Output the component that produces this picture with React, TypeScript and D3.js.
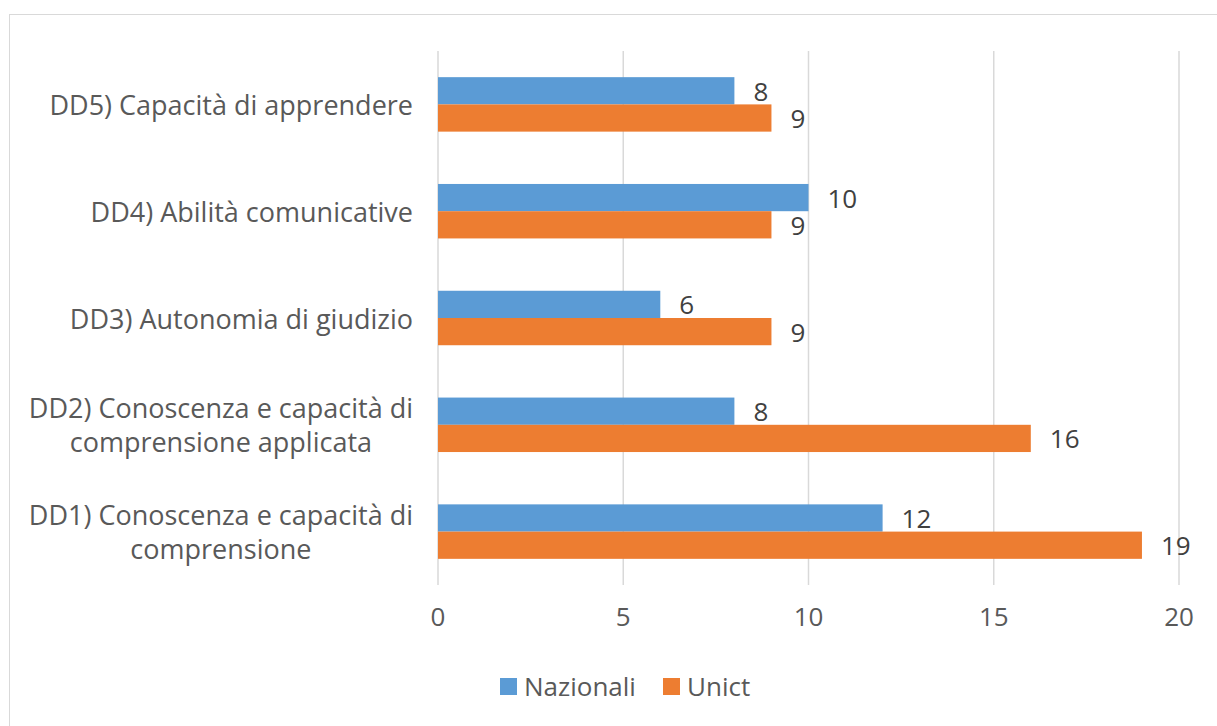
import * as d3 from 'd3';
import React, { useEffect, useRef } from 'react';

const categories = [
  ['DD5) Capacità di apprendere'],
  ['DD4) Abilità comunicative'],
  ['DD3) Autonomia di giudizio'],
  ['DD2) Conoscenza e capacità di', 'comprensione applicata'],
  ['DD1) Conoscenza e capacità di', 'comprensione'],
];
const nazionali = [8, 10, 6, 8, 12];
const unict = [9, 9, 9, 16, 19];
const seriesNames = ['Nazionali', 'Unict'];
const colors = ['#5B9BD5', '#ED7D31'];
const xTicks = [0, 5, 10, 15, 20];

const width = 1217;
const height = 726;
const font = '"Open Sans", sans-serif';
const textColor = '#595959';
const fontSize = 26;

export default function App() {
  const ref = useRef<SVGSVGElement>(null);

  useEffect(() => {
    const svg = d3.select(ref.current);
    svg.selectAll('*').remove();

    // chart border
    svg
      .append('rect')
      .attr('x', 9.5)
      .attr('y', 14.5)
      .attr('width', 1240)
      .attr('height', 740)
      .attr('fill', '#fff')
      .attr('stroke', '#D9D9D9');

    const left = 438;
    const right = 1179;
    const top = 51;
    const bottom = 585;

    const x = d3.scaleLinear().domain([0, 20]).range([left, right]);
    const y = d3
      .scaleBand<number>()
      .domain(d3.range(categories.length))
      .range([top, bottom])
      .paddingInner(0.49)
      .paddingOuter(0.245);
    const sub = d3.scaleBand<number>().domain([0, 1]).range([0, y.bandwidth()]);

    // gridlines
    svg
      .append('g')
      .selectAll('line')
      .data(xTicks)
      .join('line')
      .attr('x1', (d) => x(d))
      .attr('x2', (d) => x(d))
      .attr('y1', top)
      .attr('y2', bottom)
      .attr('stroke', '#D9D9D9')
      .attr('stroke-width', 1.5);

    // tick labels
    svg
      .append('g')
      .selectAll('text')
      .data(xTicks)
      .join('text')
      .attr('x', (d) => x(d))
      .attr('y', 616)
      .attr('text-anchor', 'middle')
      .attr('dominant-baseline', 'central')
      .attr('font-family', font)
      .attr('font-size', fontSize)
      .attr('fill', textColor)
      .text((d) => d);

    const series = [nazionali, unict];
    series.forEach((vals, s) => {
      const g = svg.append('g');
      g.selectAll('rect')
        .data(vals)
        .join('rect')
        .attr('x', x(0))
        .attr('y', (d, i) => (y(i) as number) + (sub(s) as number))
        .attr('width', (d) => x(d) - x(0))
        .attr('height', sub.bandwidth())
        .attr('fill', colors[s]);
      g.selectAll('text')
        .data(vals)
        .join('text')
        .attr('x', (d) => x(d) + 19)
        .attr('y', (d, i) => (y(i) as number) + (sub(s) as number) + sub.bandwidth() / 2)
        .attr('dominant-baseline', 'central')
        .attr('font-family', font)
        .attr('font-size', fontSize)
        .attr('fill', '#404040')
        .text((d) => d);
    });

    // category labels: block right-aligned, lines centred within block
    const labelRight = 413;
    const lineH = 34;
    categories.forEach((lines, i) => {
      const cy = (y(i) as number) + y.bandwidth() / 2;
      const g = svg.append('g');
      const texts = lines.map((l, j) =>
        g
          .append('text')
          .attr('y', cy + (j - (lines.length - 1) / 2) * lineH)
          .attr('dominant-baseline', 'central')
          .attr('text-anchor', 'middle')
          .attr('font-family', font)
          .attr('font-size', 27)
          .attr('fill', textColor)
          .text(l),
      );
      const widths = texts.map((t) => (t.node() as SVGTextElement).getComputedTextLength());
      const maxW = d3.max(widths) as number;
      texts.forEach((t) => t.attr('x', labelRight - maxW / 2));
    });

    // legend
    const legendX = [500, 663];
    seriesNames.forEach((name, s) => {
      svg
        .append('rect')
        .attr('x', legendX[s])
        .attr('y', 678)
        .attr('width', 17)
        .attr('height', 17)
        .attr('fill', colors[s]);
      svg
        .append('text')
        .attr('x', legendX[s] + 24)
        .attr('y', 686)
        .attr('dominant-baseline', 'central')
        .attr('font-family', font)
        .attr('font-size', fontSize)
        .attr('fill', textColor)
        .text(name);
    });
  }, []);

  return (
    <svg
      ref={ref}
      width={width}
      height={height}
      style={{ position: 'absolute', left: 0, top: 0, display: 'block' }}
    />
  );
}
